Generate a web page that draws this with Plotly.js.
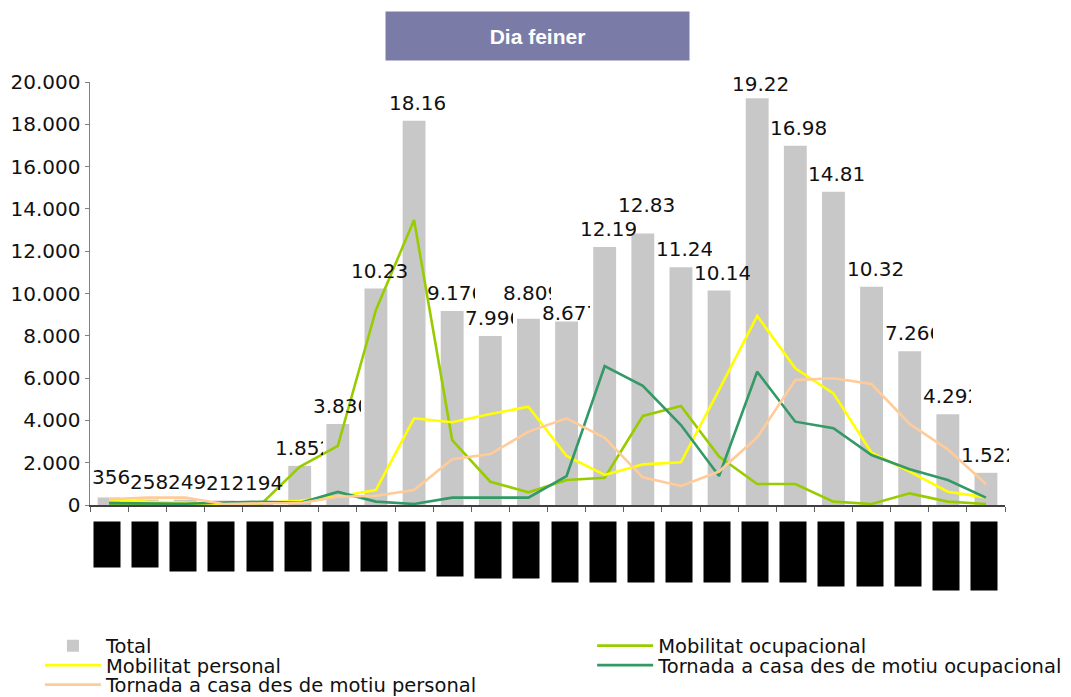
<!DOCTYPE html>
<html><head><meta charset="utf-8">
<script src="https://cdn.plot.ly/plotly-3.0.1.min.js"></script>
<style>html,body{margin:0;padding:0;background:#fff}#chart{width:1071px;height:697px}</style>
</head><body><div id="chart"></div>
<script>
const hours = ['0','1','2','3','4','5','6','7','8','9','10','11','12','13','14','15','16','17','18','19','20','21','22','23'];
const hourLabels = ['0 a 1 h','1 a 2 h','2 a 3 h','3 a 4 h','4 a 5 h','5 a 6 h','6 a 7 h','7 a 8 h','8 a 9 h','9 a 10 h','10 a 11 h','11 a 12 h','12 a 13 h','13 a 14 h','14 a 15 h','15 a 16 h','16 a 17 h','17 a 18 h','18 a 19 h','19 a 20 h','20 a 21 h','21 a 22 h','22 a 23 h','23 a 24 h'];
const total = [356,258,249,212,194,1852,3830,10234,18163,9176,7996,8809,8677,12194,12835,11247,10142,19227,16986,14815,10323,7266,4292,1522];
const mobOcupacional = [50,40,40,60,60,1800,2790,9220,13480,3070,1100,600,1180,1290,4210,4680,2290,990,990,160,50,550,160,50];
const mobPersonal = [250,150,100,60,100,200,400,710,4100,3910,4300,4650,2320,1420,1920,2020,5440,8940,6460,5280,2470,1580,630,360];
const tornadaOcupacional = [90,60,60,120,150,100,620,160,50,350,350,350,1370,6570,5630,3780,1370,6300,3940,3630,2360,1690,1180,350];
const tornadaPersonal = [270,350,350,50,80,80,390,440,710,2160,2410,3470,4100,3180,1310,900,1580,3200,5910,5990,5720,3830,2630,990];
const seriesNames = ['Total','Mobilitat ocupacional','Mobilitat personal','Tornada a casa des de motiu ocupacional','Tornada a casa des de motiu personal'];
const titleText = 'Dia feiner';

// style: tick-label box heights and label vertical nudges (px)
const labelBoxHeights = [45,45,49,49,49,49,49,49,49,54,56,56,60,60,60,60,60,60,60,64,64,64,68,68];
const labelLift = [2,0,0,0,0,0,0,0,0,0,0,8,-10,0,11,0,0,-4,0,0,0,0,0,0];

function fmt(v){ return String(v).replace(/\B(?=(\d{3})+(?!\d))/g,'.'); }

const FONT = 'DejaVu Sans, Verdana, sans-serif';
const lineW = 2.6;

const traces = [
  {type:'bar', x:hours, y:total, name:seriesNames[0], marker:{color:'#c8c8c8'}, legend:'legend', hoverinfo:'skip'},
  {type:'scatter', mode:'lines', x:hours, y:mobOcupacional, name:seriesNames[1], line:{color:'#99cc00', width:lineW}, legend:'legend2'},
  {type:'scatter', mode:'lines', x:hours, y:mobPersonal, name:seriesNames[2], line:{color:'#ffff00', width:lineW}, legend:'legend3'},
  {type:'scatter', mode:'lines', x:hours, y:tornadaOcupacional, name:seriesNames[3], line:{color:'#339966', width:lineW}, legend:'legend4'},
  {type:'scatter', mode:'lines', x:hours, y:tornadaPersonal, name:seriesNames[4], line:{color:'#ffcc99', width:lineW}, legend:'legend5'}
];

const annotations = [];
total.forEach((v,i)=>{
  const t = fmt(v);
  const a = {x:hours[i], y:v, xref:'x', yref:'y', text:t, showarrow:false, yanchor:'bottom', yshift:5 + labelLift[i],
    font:{family:FONT, size:20, color:'#111'}, borderpad:0};
  if (t.length >= 6) { a.width = 56; a.align = 'left'; a.xshift = 3; }
  else if (t.length === 5) { a.width = 48; a.align = 'left'; a.xshift = -1; }
  else { a.xshift = 2; }
  annotations.push(a);
});
hourLabels.forEach((lab,i)=>{
  annotations.push({x:hours[i], xref:'x', yref:'paper', y:-0.0378, yanchor:'top', xanchor:'center', xshift:-2,
    width:26, height:labelBoxHeights[i], bgcolor:'#000000', borderpad:0, showarrow:false,
    text:lab, font:{family:FONT, size:7, color:'#000000'}});
});
annotations.push({xref:'paper', yref:'paper', x:0.489, y:1.1087, xanchor:'center', yanchor:'middle',
  width:303, height:48, bgcolor:'#7b7ba8', borderpad:0, showarrow:false,
  text:'<b>'+titleText+'</b>', font:{family:'Liberation Sans, Arial, sans-serif', size:21, color:'#ffffff'}});

const legFont = {family:FONT, size:19.5, color:'#111'};
function leg(x,y){ return {x:x, y:y, xanchor:'left', yanchor:'middle', orientation:'v', itemwidth:56, bgcolor:'rgba(0,0,0,0)', font:legFont}; }

const LX = -0.0547, RX = 0.5488;
const layout = {
  width:1071, height:697,
  margin:{l:90, r:66, t:82, b:192, autoexpand:false},
  paper_bgcolor:'#ffffff', plot_bgcolor:'#ffffff',
  separators:',.',
  showlegend:true,
  bargap:0.4,
  xaxis:{type:'category', showgrid:false, zeroline:false, showline:true, linecolor:'#404040', linewidth:1.5,
    ticks:'outside', tickson:'boundaries', ticklen:5, tickcolor:'#606060', showticklabels:false, range:[-0.5,23.5], fixedrange:true},
  yaxis:{range:[0,20000], dtick:2000, tickformat:',d', showgrid:false, zeroline:false, showline:true, linecolor:'#808080', linewidth:1.5,
    ticks:'outside', ticklen:4, tickcolor:'#808080', tickfont:{family:FONT, size:20, color:'#111'}, fixedrange:true},
  legend: leg(LX, -0.3333),
  legend2: leg(RX, -0.3333),
  legend3: leg(LX, -0.3794),
  legend4: leg(RX, -0.3794),
  legend5: leg(LX, -0.4255),
  annotations: annotations
};
Plotly.newPlot('chart', traces, layout, {displayModeBar:false, staticPlot:true});
</script>
</body></html>
